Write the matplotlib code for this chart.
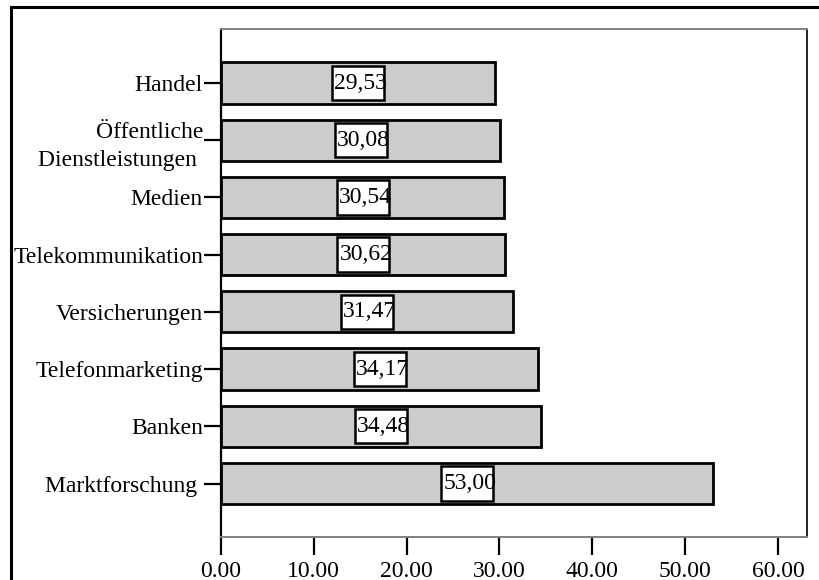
import matplotlib
matplotlib.use("Agg")
import matplotlib.pyplot as plt
from matplotlib.patches import Rectangle

# Branchen (von oben nach unten) und ihre Mittelwerte
branchen = ["Handel", "Öffentliche\nDienstleistungen ", "Medien", "Telekommunikation",
            "Versicherungen", "Telefonmarketing", "Banken", "Marktforschung "]
werte = [29.53, 30.08, 30.54, 30.62, 31.47, 34.17, 34.48, 53.00]
x_ticks = [0, 10, 20, 30, 40, 50, 60]
x_tick_labels = ["0.00", "10.00", "20.00", "30.00", "40.00", "50.00", "60.00"]

plt.rcParams["font.family"] = ["Liberation Serif", "DejaVu Serif"]
FS = 17

fig = plt.figure(figsize=(8.19, 5.8), dpi=100)
ax = fig.add_axes([221 / 819, 1 - 537 / 580, (807 - 221) / 819, (537 - 29) / 580])

n = len(branchen)
pos = [n - 1 - i for i in range(n)]
ax.barh(pos, werte, height=0.72, color="#cccccc", edgecolor="black", linewidth=2, zorder=2)

ax.set_xlim(0, 63.13)
ax.set_ylim(-0.935, n - 1 + 0.944)

# Wertelabels: weißes Kästchen in fester Größe, Zahl leicht nach rechts versetzt
box_w = 5.6    # in x-Einheiten
box_h = 0.60   # in Balkenabständen
for p, v in zip(pos, werte):
    ax.add_patch(Rectangle((v / 2 - box_w / 2, p - box_h / 2), box_w, box_h,
                           facecolor="white", edgecolor="black", linewidth=1.8, zorder=3))
    ax.annotate(f"{v:.2f}".replace(".", ","), (v / 2, p), xytext=(2, 0),
                textcoords="offset points", ha="center", va="center",
                fontsize=FS, zorder=4)

ax.set_yticks(pos)
ax.set_yticklabels(branchen, fontsize=FS, linespacing=1.45)
ax.set_xticks(x_ticks)
ax.set_xticklabels(x_tick_labels, fontsize=FS)

ax.tick_params(axis="y", length=12, width=1.6, pad=1, color="black")
ax.tick_params(axis="x", length=13, width=1.6, pad=4, color="black")

ax.spines["left"].set_color("black")
ax.spines["left"].set_linewidth(1.6)
ax.spines["right"].set_color("#222222")
ax.spines["right"].set_linewidth(1.4)
ax.spines["top"].set_color("#808080")
ax.spines["top"].set_linewidth(1.4)
ax.spines["bottom"].set_color("#808080")
ax.spines["bottom"].set_linewidth(1.4)

# Rahmen um die gesamte Grafik
frame = Rectangle((11 / 819, -0.2), 1.3, 1.2 - 7 / 580, transform=fig.transFigure,
                  fill=False, edgecolor="black", linewidth=2.2, clip_on=False)
fig.patches.append(frame)

fig.savefig("out.png", dpi=100)
